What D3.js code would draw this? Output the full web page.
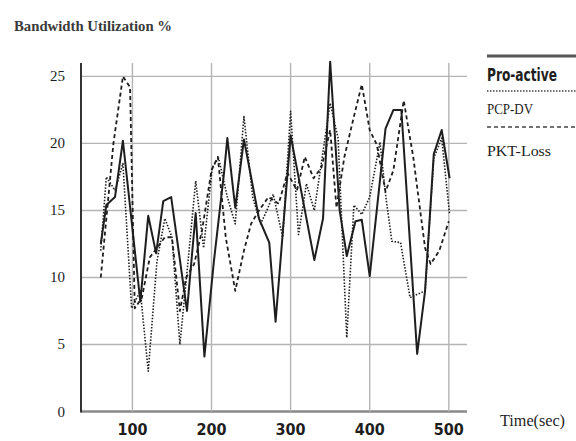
<!DOCTYPE html>
<html>
<head>
<meta charset="utf-8">
<script src="https://cdn.jsdelivr.net/npm/d3@7"></script>
<style>
  html, body { margin: 0; padding: 0; background: #fff; }
  svg { display: block; }
</style>
</head>
<body>
<svg id="chart" width="576" height="441"></svg>
<script>
// values (time in sec, bandwidth utilization %)
const proTimes = [60, 67, 78, 88, 110, 120, 130, 139, 149, 169, 180, 191, 203, 216, 220, 230, 241, 260, 273, 281, 300, 330, 341, 350, 362, 371, 382, 390, 400, 420, 430, 440, 460, 470, 481, 491, 501]
const proValues = [12.5, 15.4, 16, 20.2, 8.2, 14.6, 11.8, 15.7, 16, 7.5, 14.8, 4.1, 11.2, 17.9, 20.4, 15.2, 20.3, 14.4, 12.6, 6.7, 20.6, 11.3, 14.4, 26.1, 15, 11.6, 14.2, 14.3, 10.1, 21.1, 22.5, 22.5, 4.3, 9, 19.2, 21, 17.4]

const pcpTimes = [60, 67, 78, 88, 99, 110, 120, 131, 141, 150, 160, 170, 180, 190, 201, 209, 220, 230, 241, 252, 262, 270, 278, 290, 300, 310, 320, 330, 340, 350, 360, 371, 380, 390, 400, 413, 420, 428, 439, 451, 470, 481, 491, 501]
const pcpValues = [12, 17.5, 16.5, 18.5, 7.7, 9, 3, 11.2, 14.4, 13, 5, 11, 17.2, 12.2, 18.2, 18.9, 16, 14, 22, 16, 14, 15, 16.2, 13, 22.4, 13.2, 17, 15, 19, 23, 20.4, 5.5, 15.4, 14.7, 16, 20.1, 16.2, 12.7, 12.6, 8.5, 9, 18.9, 20.4, 14.7]

const pktTimes = [60, 76, 88, 97, 103, 112, 122, 131, 141, 150, 160, 168, 178, 188, 200, 208, 218, 230, 241, 250, 260, 272, 285, 296, 308, 318, 329, 339, 350, 358, 368, 380, 390, 400, 409, 420, 430, 443, 455, 470, 477, 488, 500]
const pktValues = [10, 20, 25, 24.2, 7.7, 8.5, 11.5, 12.2, 13, 13, 7.5, 10, 11, 13.5, 18, 19, 13, 9, 12, 14, 15, 16, 15.5, 17.8, 16.5, 19, 17.4, 18.2, 21, 15.2, 19, 22, 24.4, 21, 19.9, 16.4, 18, 23.2, 19, 12.2, 11, 12, 14.2]

const xTicks = [100, 200, 300, 400, 500]
const yTicks = [0, 5, 10, 15, 20, 25]

const seriesNames = ['Pro-active', 'PCP-DV', 'PKT-Loss']

const svg = d3.select('#chart')
const ink = '#1e1e1e'
const serif = '"Liberation Serif", "DejaVu Serif", serif'
const narrow = '"Liberation Sans Narrow", "DejaVu Sans Condensed", sans-serif'

const x = d3.scaleLinear().domain([35, 523]).range([81, 467])
const y = d3.scaleLinear().domain([0, 26]).range([411.5, 63])

// grid
const grid = svg.append('g').attr('class', 'grid')
grid.selectAll('line.h')
  .data(yTicks)
  .join('line')
  .attr('class', 'h')
  .attr('x1', x(35)).attr('x2', x(523))
  .attr('y1', d => y(d)).attr('y2', d => y(d))
  .attr('stroke', d => d === 0 ? '#888' : '#b4b4b4')
  .attr('stroke-width', d => d === 0 ? 2.5 : 1.4)

grid.selectAll('line.v')
  .data(xTicks)
  .join('line')
  .attr('class', 'v')
  .attr('x1', d => x(d)).attr('x2', d => x(d))
  .attr('y1', y(26)).attr('y2', y(0))
  .attr('stroke', '#b4b4b4')
  .attr('stroke-width', 1.4)

// y axis line
svg.append('line')
  .attr('x1', x(35)).attr('x2', x(35))
  .attr('y1', y(26)).attr('y2', y(0) + 1)
  .attr('stroke', '#333')
  .attr('stroke-width', 2)

// tick labels
svg.append('g').selectAll('text')
  .data(yTicks)
  .join('text')
  .attr('x', 65)
  .attr('y', d => y(d) + 5)
  .attr('text-anchor', 'end')
  .attr('font-family', serif)
  .attr('font-size', 15)
  .attr('fill', ink)
  .text(d => d)

svg.append('g').selectAll('text')
  .data(xTicks)
  .join('text')
  .attr('x', d => x(d))
  .attr('y', 435)
  .attr('text-anchor', 'middle')
  .attr('font-family', narrow)
  .attr('font-weight', 'bold')
  .attr('font-size', 16)
  .attr('fill', ink)
  .text(d => d)

svg.append('text')
  .attr('x', 14).attr('y', 31)
  .attr('font-family', serif)
  .attr('font-weight', 'bold')
  .attr('font-size', 14)
  .attr('textLength', 158)
  .attr('lengthAdjust', 'spacingAndGlyphs')
  .attr('fill', '#3a3a3a')
  .text('Bandwidth Utilization %')

svg.append('text')
  .attr('x', 500).attr('y', 426)
  .attr('font-family', serif)
  .attr('font-size', 16)
  .attr('textLength', 65)
  .attr('lengthAdjust', 'spacingAndGlyphs')
  .attr('fill', ink)
  .text('Time(sec)')

// series
const line = d3.line()
  .x(d => x(d[0]))
  .y(d => y(d[1]))

const series = [
  { name: seriesNames[0], t: proTimes, v: proValues, dash: null, w: 2 },
  { name: seriesNames[1], t: pcpTimes, v: pcpValues, dash: '1.5,1.6', w: 1.6 },
  { name: seriesNames[2], t: pktTimes, v: pktValues, dash: '4,3', w: 1.8 }
]

series.slice().reverse().forEach(s => {
  svg.append('path')
    .datum(s.t.map((t, i) => [t, s.v[i]]))
    .attr('fill', 'none')
    .attr('stroke', ink)
    .attr('stroke-width', s.w)
    .attr('stroke-dasharray', s.dash)
    .attr('stroke-linejoin', 'round')
    .attr('d', line)
})

// legend
const legend = svg.append('g')
const legendRows = [
  { lineY: 56, textY: 81, w: 3, dash: null, font: narrow, weight: 'bold', size: 17, len: 70 },
  { lineY: 91, textY: 114, w: 1.4, dash: '1.5,1.5', font: serif, weight: 'normal', size: 15, len: 46 },
  { lineY: 127, textY: 156, w: 1.6, dash: '4,3', font: serif, weight: 'normal', size: 15, len: 64 }
]
legendRows.forEach((r, i) => {
  legend.append('line')
    .attr('x1', 487).attr('x2', 576)
    .attr('y1', r.lineY).attr('y2', r.lineY)
    .attr('stroke', i === 0 ? '#555' : '#444')
    .attr('stroke-width', r.w)
    .attr('stroke-dasharray', r.dash)
  legend.append('text')
    .attr('x', 487).attr('y', r.textY)
    .attr('font-family', r.font)
    .attr('font-weight', r.weight)
    .attr('font-size', r.size)
    .attr('textLength', r.len)
    .attr('lengthAdjust', 'spacingAndGlyphs')
    .attr('fill', ink)
    .text(seriesNames[i])
})
</script>
</body>
</html>
